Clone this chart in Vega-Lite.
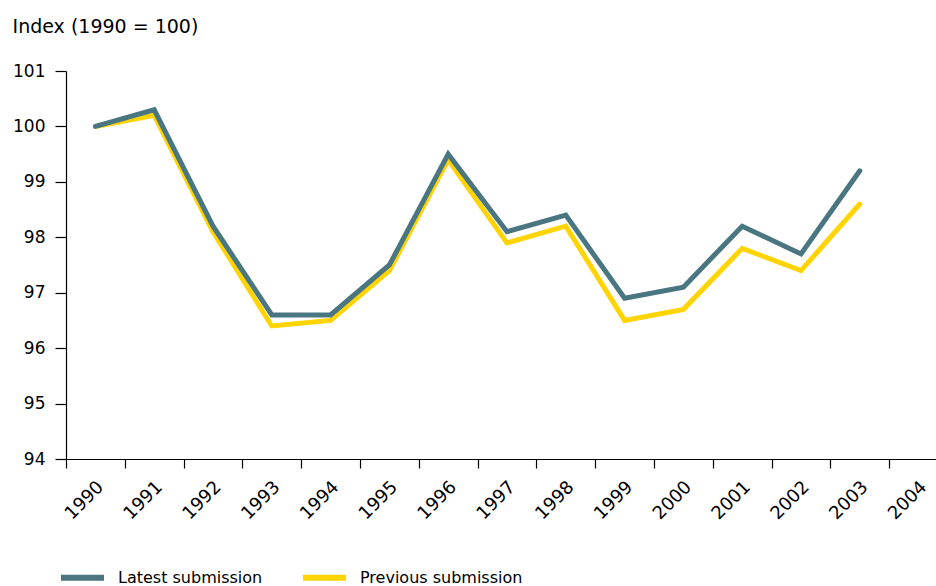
{
  "$schema": "https://vega.github.io/schema/vega-lite/v6.json",
  "width": 870,
  "height": 388,
  "autosize": {"type": "none"},
  "padding": {"left": 66, "top": 71, "right": 0, "bottom": 127},
  "background": "white",
  "config": {
    "view": {"stroke": null},
    "font": "DejaVu Sans",
    "axis": {"labelFont": "DejaVu Sans", "labelFontSize": 17, "labelColor": "#000000", "domainColor": "#000000", "tickColor": "#000000", "grid": false}
  },
  "title": {"text": "Index (1990 = 100)", "anchor": "start", "frame": "bounds", "fontSize": 19, "fontWeight": "normal", "font": "DejaVu Sans", "color": "#000000", "offset": 25},
  "data": {"values": [
    {"year": "1990", "latest": 100.0, "previous": 100.0},
    {"year": "1991", "latest": 100.3, "previous": 100.2},
    {"year": "1992", "latest": 98.2, "previous": 98.1},
    {"year": "1993", "latest": 96.6, "previous": 96.4},
    {"year": "1994", "latest": 96.6, "previous": 96.5},
    {"year": "1995", "latest": 97.5, "previous": 97.4},
    {"year": "1996", "latest": 99.5, "previous": 99.4},
    {"year": "1997", "latest": 98.1, "previous": 97.9},
    {"year": "1998", "latest": 98.4, "previous": 98.2},
    {"year": "1999", "latest": 96.9, "previous": 96.5},
    {"year": "2000", "latest": 97.1, "previous": 96.7},
    {"year": "2001", "latest": 98.2, "previous": 97.8},
    {"year": "2002", "latest": 97.7, "previous": 97.4},
    {"year": "2003", "latest": 99.2, "previous": 98.6}
  ]},
  "encoding": {
    "x": {
      "field": "year", "type": "ordinal",
      "scale": {"domain": ["1990","1991","1992","1993","1994","1995","1996","1997","1998","1999","2000","2001","2002","2003","2004"], "range": [0, 882], "paddingInner": 0, "paddingOuter": 0},
      "axis": {"title": null, "tickBand": "extent", "labelAngle": -45, "labelAlign": "right", "labelBaseline": "middle", "labelFontSize": 18, "tickSize": 9, "labelPadding": 16, "labelOffset": 5, "domainWidth": 1.2, "tickWidth": 1.2}
    }
  },
  "layer": [
    {
      "mark": {"type": "line", "strokeWidth": 5, "strokeCap": "round", "strokeJoin": "miter"},
      "encoding": {
        "y": {"field": "previous", "type": "quantitative", "scale": {"domain": [94, 101], "nice": false, "zero": false},
          "axis": {"title": null, "format": "d", "values": [94, 95, 96, 97, 98, 99, 100, 101], "tickSize": 11, "labelPadding": 10, "domainWidth": 1.2, "tickWidth": 1.2}},
        "color": {"datum": "Previous submission", "type": "nominal"}
      }
    },
    {
      "mark": {"type": "line", "strokeWidth": 5, "strokeCap": "round", "strokeJoin": "miter"},
      "encoding": {
        "y": {"field": "latest", "type": "quantitative"},
        "color": {"datum": "Latest submission", "type": "nominal",
          "scale": {"domain": ["Latest submission", "Previous submission"], "range": ["#4a7682", "#ffd400"]},
          "legend": {"title": null, "orient": "none", "direction": "horizontal", "legendX": -8, "legendY": 482,
            "symbolType": "stroke", "symbolSize": 1849, "symbolStrokeWidth": 6, "labelFontSize": 16, "labelFont": "DejaVu Sans", "labelColor": "#000000", "labelOffset": 11, "labelLimit": 400, "columnPadding": 28}}
      }
    }
  ]
}
